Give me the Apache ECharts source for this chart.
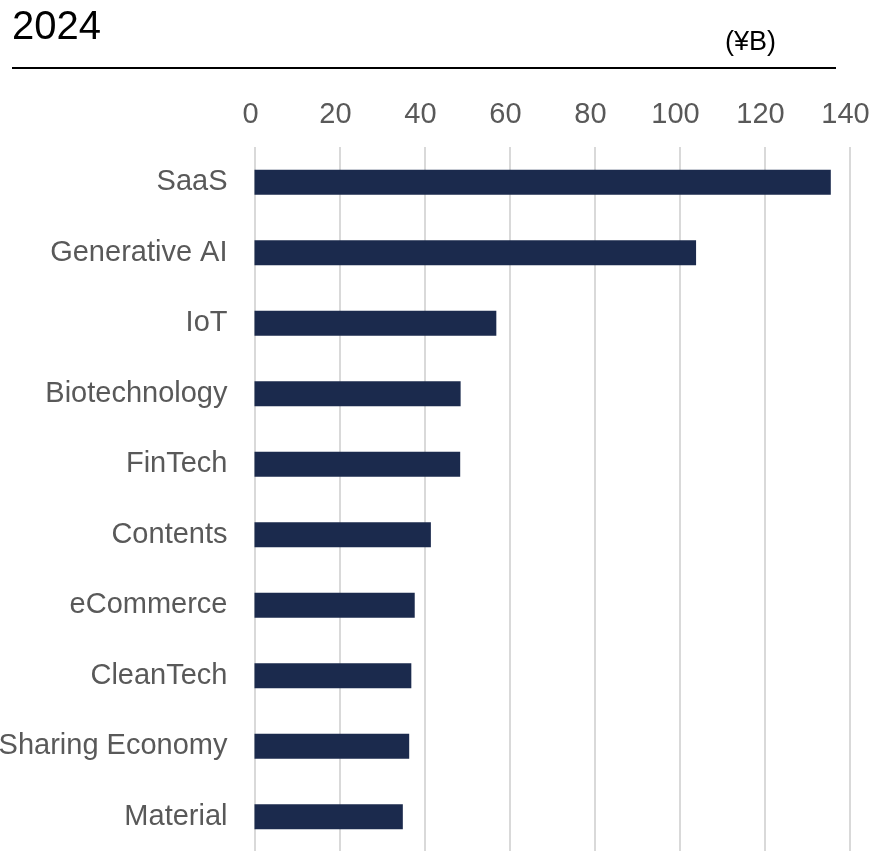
<!DOCTYPE html>
<html>
<head>
<meta charset="utf-8">
<script src="https://cdn.jsdelivr.net/npm/echarts@6/dist/echarts.min.js"></script>
<style>
  html, body { margin: 0; padding: 0; background: #fff; }
  #chart { width: 873px; height: 851px; }
</style>
</head>
<body>
<div id="chart"></div>
<script>
// Market size by sector, 2024 (¥B)
const categories = ['SaaS', 'Generative AI', 'IoT', 'Biotechnology', 'FinTech',
  'Contents', 'eCommerce', 'CleanTech', 'Sharing Economy', 'Material'];
const values = [135.6, 103.9, 56.9, 48.5, 48.4, 41.5, 37.7, 36.9, 36.4, 34.9];
const tickMax = 140;
const tickStep = 20;

const chart = echarts.init(document.getElementById('chart'), null, { renderer: 'canvas' });
const FONT = '"Liberation Sans", Arial, sans-serif';

chart.setOption({
  animation: false,
  backgroundColor: '#ffffff',
  title: {
    text: '2024',
    left: 12,
    top: 8,
    padding: 0,
    textStyle: { fontFamily: FONT, fontSize: 40, fontWeight: 'normal', color: '#000000', lineHeight: 40 }
  },
  graphic: [
    {
      type: 'line',
      shape: { x1: 12, y1: 68, x2: 836, y2: 68 },
      style: { stroke: '#000000', lineWidth: 2 }
    },
    {
      type: 'text',
      left: 725,
      top: 29,
      style: { text: '(¥B)', fontFamily: FONT, fontSize: 27, fill: '#000000' }
    }
  ],
  grid: {
    left: 254.5, top: 147, width: 595, height: 705,
    containLabel: false,
    outerBoundsMode: 'none'
  },
  xAxis: {
    type: 'value',
    position: 'top',
    min: 0,
    max: tickMax,
    interval: tickStep,
    axisLine: { show: false },
    axisTick: { show: false },
    axisLabel: {
      margin: 18,
      fontFamily: FONT,
      fontSize: 29,
      lineHeight: 29,
      color: '#595959',
      padding: [0, 8, 0, 0]
    },
    splitLine: { show: true, lineStyle: { color: '#d9d9d9', width: 2 } }
  },
  yAxis: {
    type: 'category',
    data: categories,
    inverse: true,
    axisLine: { show: false },
    axisTick: { show: false },
    axisLabel: {
      margin: 27,
      fontFamily: FONT,
      fontSize: 29,
      lineHeight: 29,
      padding: [2, 0, 0, 0],
      color: '#595959'
    }
  },
  series: [{
    type: 'bar',
    data: values,
    barWidth: 25,
    itemStyle: { color: '#1b2a4d' }
  }]
});
</script>
</body>
</html>
